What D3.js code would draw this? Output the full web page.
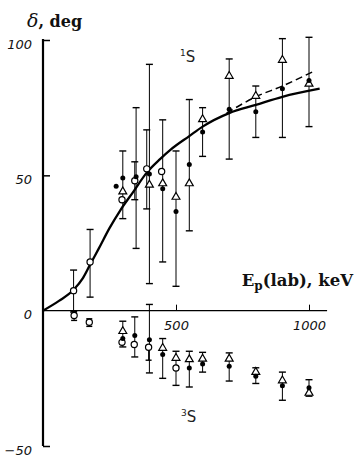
<!DOCTYPE html>
<html><head><meta charset="utf-8">
<script src="https://cdn.jsdelivr.net/npm/d3@7"></script>
<style>html,body{margin:0;padding:0;background:#fff;}svg{display:block;}</style>
</head><body>
<svg id="c" width="354" height="457"></svg>
<script>
// ---- data (E in keV, delta in degrees) ----
// 1S branch (upper)
const upFilledE   = [300, 350, 400, 450, 500, 550, 600, 700, 800, 900, 1000];
const upFilledD   = [49, 49.5, 50.5, 45, 36.6, 54, 66, 74.4, 73.5, 82, 85];
const upFilledLo  = [34, 23, 10, 18, 9, 29.5, 57, 56, 64, 64, 68];
const upFilledHi  = [59, 75, 91, 70.5, 59, 78, 75, 93, 83, 100.5, 101];
const upOpenE     = [115, 177, 297, 345, 390, 446];
const upOpenD     = [7.4, 18, 41, 48, 52.4, 51.4];
const upOpenLo    = [-0.5, 5, null, 41, 37.6, null];
const upOpenHi    = [15, 30, null, 55, 66.8, null];
const upTriE      = [300, 400, 450, 500, 550, 600, 700, 800, 900, 1000];
const upTriD      = [44, 46.5, 47, 42, 47, 70.7, 86.7, 79.3, 92.6, 83.8];
// 3S branch (lower)
const loFilledE   = [300, 345, 400, 450, 550, 600, 700, 800, 900, 1000];
const loFilledD   = [-10.3, -9.2, -10.7, -16.2, -21.2, -19.7, -20.5, -24.2, -27.7, -28.5];
const loFilledLo  = [-13.4, -17.1, -23, -25, -28.2, -22.7, -26, -26.9, -33.1, -31.6];
const loFilledHi  = [-3.9, -2.3, 2.3, -10.3, -15, -15.4, -15.6, -21.1, -22.7, -25.5];
const loOpenE     = [117, 174, 297, 343, 397, 500];
const loOpenD     = [-1.8, -4.3, -11.7, -12.5, -13.5, -21.2];
const loOpenLo    = [-3.6, -5.8, null, null, -18.3, null];
const loOpenHi    = [-0.3, -3, null, null, null, null];
const loTriE      = [300, 450, 500, 550, 600, 700, 800, 900, 1000];
const loTriD      = [-7.6, -13.8, -17.5, -18, -17.8, -17.8, -22.7, -25.8, -30.4];
const loTriLo     = [null, null, -27.6, null, null, null, null, null, null];
const loTriHi     = [null, null, -15, null, null, null, null, null, null];
// fitted curves
const solidE = [0, 60, 115, 150, 177, 210, 250, 290, 340, 390, 440, 480, 550, 600, 700, 800, 900, 1040];
const solidD = [0, 3.6, 7.7, 12, 17, 23, 30.5, 37, 44, 51, 56, 59.5, 64.5, 68, 73, 76, 79, 82];
const dashE  = [690, 800, 900, 1015];
const dashD  = [73, 79, 83, 88.3];
// ticks
const yTicks = [-50, 0, 50, 100];
const xTicks = [500, 1000];

// ---- drawing ----
const svg = d3.select("#c");
const x = d3.scaleLinear().domain([0, 1000]).range([43, 309]);
const y = d3.scaleLinear().domain([-50, 100]).range([446, 40]);
const tickFont = "'DejaVu Sans', sans-serif";

// y axis
const yAx = svg.append("g").attr("transform", `translate(${x(0)},0)`)
  .call(d3.axisLeft(y).tickValues(yTicks).tickSizeInner(-7).tickSizeOuter(0).tickPadding(11)
        .tickFormat(d3.format("d")));
yAx.select(".domain").remove();
yAx.selectAll(".tick line").attr("stroke", "#000").attr("stroke-width", 1.5);
yAx.selectAll(".tick text").attr("font-family", tickFont).attr("font-style", "italic")
  .attr("font-size", 13).attr("dy", "0.62em").attr("fill", "#111");
yAx.selectAll(".tick").filter(d => d === 0).select("line").remove();
svg.append("line").attr("x1", x(0)).attr("x2", x(0)).attr("y1", y(100) - 1).attr("y2", y(-50))
  .attr("stroke", "#000").attr("stroke-width", 2.2);

// x axis
const xAx = svg.append("g").attr("transform", `translate(0,${y(0)})`)
  .call(d3.axisBottom(x).tickValues(xTicks).tickSizeInner(-6).tickSizeOuter(0).tickPadding(10)
        .tickFormat(d3.format("d")));
xAx.select(".domain").remove();
xAx.selectAll(".tick line").attr("stroke", "#000").attr("stroke-width", 1);
xAx.selectAll(".tick text").attr("font-family", tickFont).attr("font-style", "italic")
  .attr("font-size", 13).attr("fill", "#111");
svg.append("line").attr("x1", x(0)).attr("x2", x(1068)).attr("y1", y(0)).attr("y2", y(0))
  .attr("stroke", "#000").attr("stroke-width", 1.4);

// curves
const line = d3.line().x(d => x(d[0])).y(d => y(d[1])).curve(d3.curveMonotoneX);
svg.append("path").attr("d", line(solidE.map((e, i) => [e, solidD[i]])))
  .attr("fill", "none").attr("stroke", "#000").attr("stroke-width", 2.3);
svg.append("path").attr("d", line(dashE.map((e, i) => [e, dashD[i]])))
  .attr("fill", "none").attr("stroke", "#000").attr("stroke-width", 1.5).attr("stroke-dasharray", "7,4");

// error bars
function bars(E, lo, hi) {
  const g = svg.append("g").attr("stroke", "#000").attr("stroke-width", 1);
  E.forEach((e, i) => {
    if (lo[i] == null && hi[i] == null) return;
    const cx = x(e);
    const y1 = y(hi[i] != null ? hi[i] : 0), y2 = y(lo[i] != null ? lo[i] : 0);
    if (hi[i] != null && lo[i] != null) {
      g.append("line").attr("x1", cx).attr("x2", cx).attr("y1", y1).attr("y2", y2);
      g.append("line").attr("x1", cx - 3.5).attr("x2", cx + 3.5).attr("y1", y1).attr("y2", y1).attr("stroke-width", 1.4);
      g.append("line").attr("x1", cx - 3.5).attr("x2", cx + 3.5).attr("y1", y2).attr("y2", y2).attr("stroke-width", 1.4);
    } else if (lo[i] != null) {
      g.append("line").attr("x1", cx).attr("x2", cx).attr("y1", y(0)).attr("y2", y2);
      g.append("line").attr("x1", cx - 3.5).attr("x2", cx + 3.5).attr("y1", y2).attr("y2", y2).attr("stroke-width", 1.4);
    }
  });
}
bars(upFilledE, upFilledLo, upFilledHi);
bars(upOpenE, upOpenLo, upOpenHi);
bars(loFilledE, loFilledLo, loFilledHi);
bars(loTriE, loTriLo, loTriHi);
// lower open circles: small bars
(function () {
  const g = svg.append("g").attr("stroke", "#000").attr("stroke-width", 1);
  loOpenE.forEach((e, i) => {
    if (loOpenLo[i] == null) return;
    const cx = x(e), top = loOpenHi[i] != null ? y(loOpenHi[i]) : y(loOpenD[i]);
    const bot = y(loOpenLo[i]);
    g.append("line").attr("x1", cx).attr("x2", cx).attr("y1", top).attr("y2", bot);
    g.append("line").attr("x1", cx - 3).attr("x2", cx + 3).attr("y1", bot).attr("y2", bot).attr("stroke-width", 1.4);
    if (loOpenHi[i] != null)
      g.append("line").attr("x1", cx - 3).attr("x2", cx + 3).attr("y1", top).attr("y2", top).attr("stroke-width", 1.4);
  });
})();

// markers
const tri = d3.symbol().type(d3.symbolTriangle).size(27);
function triangles(E, D) {
  svg.append("g").selectAll("path").data(E.map((e, i) => [e, D[i]])).join("path")
    .attr("d", tri).attr("transform", d => `translate(${x(d[0])},${y(d[1])})`)
    .attr("fill", "#fff").attr("stroke", "#000").attr("stroke-width", 1.2);
}
function opens(E, D) {
  svg.append("g").selectAll("circle").data(E.map((e, i) => [e, D[i]])).join("circle")
    .attr("cx", d => x(d[0])).attr("cy", d => y(d[1])).attr("r", 3.1)
    .attr("fill", "#fff").attr("stroke", "#000").attr("stroke-width", 1.2);
}
function filled(E, D) {
  svg.append("g").selectAll("circle").data(E.map((e, i) => [e, D[i]])).join("circle")
    .attr("cx", d => x(d[0])).attr("cy", d => y(d[1])).attr("r", 2.5).attr("fill", "#000");
}
triangles(upTriE, upTriD);
triangles(loTriE, loTriD);
opens(upOpenE, upOpenD);
opens(loOpenE, loOpenD);
filled(upFilledE, upFilledD);
filled(loFilledE, loFilledD);
filled([275], [46]);

// labels
const serif = "'DejaVu Serif', 'Liberation Serif', serif";
const yl = svg.append("text").attr("x", 27).attr("y", 27).attr("font-family", serif)
  .attr("font-size", 16).attr("font-weight", "bold").attr("fill", "#111");
yl.append("tspan").attr("font-style", "italic").attr("font-weight", "normal").attr("font-size", 19).text("δ");
yl.append("tspan").text(", deg");

const xl = svg.append("text").attr("x", 353).attr("y", 286).attr("text-anchor", "end")
  .attr("font-family", serif).attr("font-size", 16.5).attr("font-weight", "bold").attr("fill", "#111");
xl.append("tspan").text("E");
xl.append("tspan").attr("font-size", 12).attr("dy", 4).text("p");
xl.append("tspan").attr("dy", -4).text("(lab), keV");

function stateLabel(px, py, sup) {
  const t = svg.append("text").attr("x", px).attr("y", py).attr("font-family", tickFont)
    .attr("font-size", 15).attr("fill", "#222");
  t.append("tspan").attr("font-size", 9).attr("dy", -6).text(sup);
  t.append("tspan").attr("dy", 6).text("S");
}
stateLabel(180, 62, "1");
stateLabel(181, 422, "3");
</script>
</body></html>
